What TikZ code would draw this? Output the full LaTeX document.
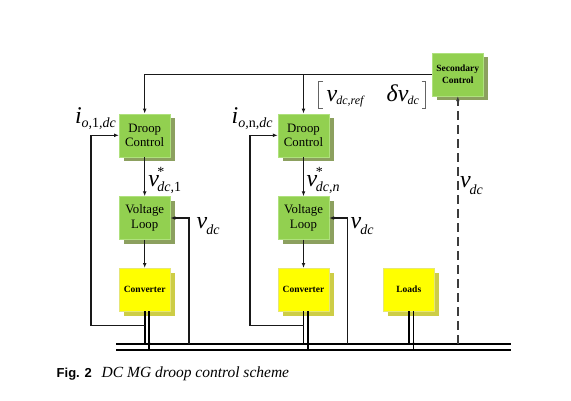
\documentclass[tikz,border=0pt]{standalone}
\usepackage{fontspec}
\setmainfont{Liberation Serif}
\setsansfont{Liberation Sans}
\usetikzlibrary{arrows.meta,shadows}
\definecolor{boxgreen}{RGB}{146,208,80}
\definecolor{shgreen}{RGB}{140,160,95}
\definecolor{boxyellow}{RGB}{255,255,0}
\definecolor{shyellow}{RGB}{205,205,70}
\definecolor{wirec}{RGB}{25,25,25}
\newcommand\lblmain{\fontsize{24}{24}\selectfont\itshape}
\newcommand\lblsub{\fontsize{14}{14}\selectfont\itshape}
\newcommand\lblstar{\rlap{\raisebox{10pt}{\fontsize{14}{14}\selectfont\upshape *}}}
\begin{document}
\begin{tikzpicture}[x=1pt,y=-1pt,
  ctrlbox/.style={rectangle, fill=boxgreen, draw={rgb,255:red,175;green,225;blue,125}, line width=0.4pt,
    minimum width=51pt, minimum height=43pt, inner sep=0pt, align=center,
    font=\fontsize{12.8}{14.8}\selectfont,
    drop shadow={shadow xshift=5pt, shadow yshift=-4.5pt, fill=shgreen, opacity=1}},
  powbox/.style={rectangle, fill=boxyellow, draw={rgb,255:red,230;green,230;blue,120}, line width=0.4pt,
    minimum width=51pt, minimum height=43pt, inner sep=0pt, align=center,
    font=\fontsize{9.5}{11.5}\selectfont\bfseries,
    drop shadow={shadow xshift=5pt, shadow yshift=-4.5pt, fill=shyellow, opacity=1}},
  wire/.style={draw=wirec, line width=1.1pt},
  arr/.style={wire, -{Latex[length=5pt,width=3.8pt]}},
  bus/.style={draw=black, line width=1.9pt},
  dasharr/.style={draw={rgb,255:red,60;green,60;blue,60}, line width=1.4pt, dash pattern=on 9pt off 5pt,
    -{Latex[length=5pt,width=3.8pt]}},
  lbl/.style={anchor=base west, inner sep=0pt, outer sep=0pt}
]
\useasboundingbox (0,0) rectangle (571,400);

% boxes
\node[ctrlbox, font=\fontsize{9.5}{11.5}\selectfont\bfseries] (sec) at (457.8,74.4) {Secondary\\Control};
\node[ctrlbox] (dr1) at (144.7,135.3) {Droop\\Control};
\node[ctrlbox] (dr2) at (303.5,135.3) {Droop\\Control};
\node[ctrlbox] (vl1) at (144.7,218) {Voltage\\Loop};
\node[ctrlbox] (vl2) at (303.5,218) {Voltage\\Loop};
\node[powbox] (cv1) at (144.7,289.7) {Converter};
\node[powbox] (cv2) at (303.5,289.7) {Converter};
\node[powbox] (ld) at (408.8,289.7) {Loads};

% bus
\coordinate (bt1) at (116,343.7);
\coordinate (bt2) at (511,343.7);
\coordinate (bb1) at (116,350);
\coordinate (bb2) at (511,350);
\draw[bus] (bt1) -- (bt2);
\draw[bus] (bb1) -- (bb2);

% legs
\foreach \b in {cv1,cv2,ld}{
  \draw[bus] (\b.south) -- (\b.south |- bt1);
  \draw[bus] ([xshift=4.7pt]\b.south) -- ([xshift=4.7pt]\b.south |- bb1);
  \fill[black] ([xshift=4.7pt]\b.south |- bt1) circle (1.7pt);
}

% top reference line
\coordinate (tl) at (dr1.north |- sec.west);
\draw[arr] (sec.west) -- (tl) -- (dr1.north);
\draw[arr] (dr2.north |- sec.west) -- (dr2.north);

% vertical chains
\draw[arr] (dr1.south) -- (vl1.north);
\draw[arr] (vl1.south) -- (cv1.north);
\draw[arr] (dr2.south) -- (vl2.north);
\draw[arr] (vl2.south) -- (cv2.north);

% current feedback
\coordinate (fi1) at (91,325.7);
\coordinate (fi2) at (250,325.7);
\draw[arr] (cv1.south |- fi1) -- (fi1) |- (dr1.west);
\draw[arr] (cv2.south |- fi2) -- (fi2) |- (dr2.west);

% voltage feedback
\coordinate (fv1) at (189,343.7);
\coordinate (fv2) at (347.7,343.7);
\draw[arr] (fv1) |- (vl1.east);
\draw[arr] (fv2) |- (vl2.east);

% secondary measurement
\draw[dasharr] (sec.south |- bt1) -- (sec.south);

% labels
\node[lbl] (li1) at (75,123.3) {\lblmain i\raisebox{-4pt}{\lblsub o,\upshape 1\itshape ,dc}};
\node[lbl] (li2) at (231.7,123.3) {\lblmain i\raisebox{-4pt}{\lblsub o,\upshape n\itshape ,dc}};
\node[lbl] (lv1) at (148.3,186.7) {\lblmain v\hspace{-1.5pt}\lblstar\raisebox{-5pt}{\lblsub dc,\upshape 1}};
\node[lbl] (lv2) at (306.7,186.7) {\lblmain v\hspace{-1.5pt}\lblstar\raisebox{-5pt}{\lblsub dc,n}};
\node[lbl] (lf1) at (196.7,228.3) {\lblmain v\hspace{-1pt}\raisebox{-6.5pt}{\lblsub dc}};
\node[lbl] (lf2) at (350.7,228.3) {\lblmain v\hspace{-1pt}\raisebox{-6.5pt}{\lblsub dc}};
\node[lbl] (ls) at (460,187.7) {\lblmain v\hspace{-1pt}\raisebox{-6.5pt}{\lblsub dc}};

% bracketed reference
\node[lbl] (lref) at (326.7,101.7) {\lblmain v\hspace{-1pt}\raisebox{-3pt}{\fontsize{12}{12}\selectfont\itshape dc,ref}};
\node[lbl] (ldel) at (386.7,101.7) {\lblmain δv\hspace{-1pt}\raisebox{-3pt}{\fontsize{12}{12}\selectfont\itshape dc}};
\draw[draw={rgb,255:red,100;green,100;blue,100}, line width=1pt] (323,81) -- (318.7,81) -- (318.7,108) -- (323,108);
\draw[draw={rgb,255:red,100;green,100;blue,100}, line width=1pt] (421.5,81) -- (425.8,81) -- (425.8,108) -- (421.5,108);

% caption
\node[lbl] (cap1) at (56.7,377) {\fontsize{13}{15}\selectfont\sffamily\bfseries Fig. 2};
\node[lbl] (cap2) at (101.7,377) {\fontsize{15.5}{17}\selectfont\itshape DC MG droop control scheme};
\end{tikzpicture}
\end{document}
